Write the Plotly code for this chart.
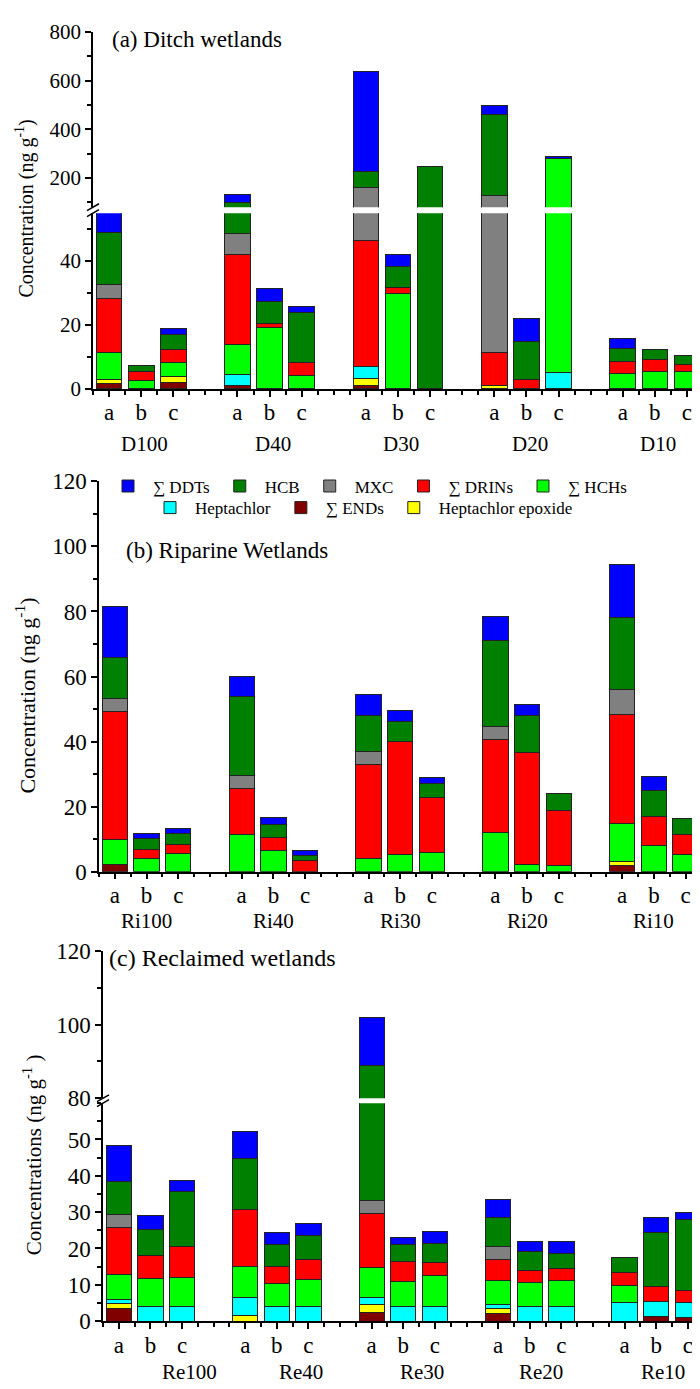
import plotly.graph_objects as go

W, H = 700, 1389
FONT = "Liberation Serif, Times New Roman, serif"

# ---------------- data ----------------
series_names = ["∑ ENDs", "Heptachlor epoxide", "Heptachlor", "∑ HCHs",
                "∑ DRINs", "MXC", "HCB", "∑ DDTs"]
series_colors = ["#800000", "#FFFF00", "#00FFFF", "#00FF00",
                 "#FF0000", "#808080", "#008000", "#0000FF"]

samples = ["a", "b", "c"]
groups_a = ["D100", "D40", "D30", "D20", "D10"]
groups_b = ["Ri100", "Ri40", "Ri30", "Ri20", "Ri10"]
groups_c = ["Re100", "Re40", "Re30", "Re20", "Re10"]

# (a) Ditch wetlands  (D100 a,b,c | D40 | D30 | D20 | D10)
a_ENDs  = [1.7, 0, 1.9,  1.0, 0, 0,    1.0, 0, 0,     0, 0, 0,      0, 0, 0]
a_HepEp = [1.3, 0, 1.9,  0, 0, 0,      2.3, 0, 0,     1.2, 0, 0,    0, 0, 0]
a_Hep   = [0, 0, 0,      3.6, 0, 0,    3.8, 0, 0,     0, 0, 5.0,    0, 0, 0]
a_HCHs  = [8.3, 2.6, 4.6, 9.4, 19.1, 4.1, 0, 30.0, 0,  0, 0, 273,   4.7, 5.3, 5.4]
a_DRINs = [16.9, 2.7, 4.0, 28.1, 1.3, 4.3, 39.3, 1.7, 0, 10.3, 2.8, 0, 3.8, 4.0, 2.2]
a_MXC   = [4.4, 0, 0,    6.5, 0, 0,    114.6, 0, 0,   115.5, 0, 0,  0, 0, 0]
a_HCB   = [16.3, 2.1, 4.6, 51.4, 7.0, 15.4, 67, 6.7, 245, 334, 12.0, 0, 4.2, 3.0, 2.8]
a_DDTs  = [7.0, 0, 2.0,  30, 4.1, 1.9,  410, 3.8, 0,   36, 7.3, 12,  3.1, 0, 0]

# (b) Riparine wetlands (Ri100 | Ri40 | Ri30 | Ri20 | Ri10)
b_ENDs  = [2.2, 0, 0,    0, 0, 0,      0, 0, 0,       0, 0, 0,      1.9, 0, 0]
b_HepEp = [0, 0, 0,      0, 0, 0,      0, 0, 0,       0, 0, 0,      1.3, 0, 0]
b_Hep   = [0, 0, 0,      0, 0, 0,      0, 0, 0,       0, 0, 0,      0, 0, 0]
b_HCHs  = [7.6, 4.2, 5.7, 11.4, 6.4, 0, 4.1, 5.4, 5.9, 12.0, 2.1, 1.8, 11.7, 8.2, 5.3]
b_DRINs = [39.4, 2.7, 2.8, 14.2, 4.2, 3.3, 28.7, 34.5, 16.9, 28.5, 34.5, 16.9, 33.4, 8.8, 6.2]
b_MXC   = [4.0, 0, 0,    4.0, 0, 0,    4.2, 0, 0,     4.2, 0, 0,    7.7, 0, 0]
b_HCB   = [12.8, 3.2, 3.1, 24.2, 4.0, 1.8, 10.9, 6.3, 4.4, 26.3, 11.5, 5.2, 22.0, 8.0, 4.7]
b_DDTs  = [15.4, 1.7, 1.8, 6.3, 2.1, 1.5, 6.5, 3.5, 1.9, 7.4, 3.3, 0, 16.4, 4.2, 0]

# (c) Reclaimed wetlands (Re100 | Re40 | Re30 | Re20 | Re10)
c_ENDs  = [3.5, 0, 0,    0, 0, 0,      2.3, 0, 0,     2.0, 0, 0,    0, 1.35, 1.1]
c_HepEp = [1.4, 0, 0,    1.5, 0, 0,    2.2, 0, 0,     1.5, 0, 0,    0, 0, 0]
c_Hep   = [1.0, 4.0, 4.0, 5.0, 4.0, 4.0, 2.0, 4.0, 4.0, 1.1, 4.0, 4.0, 5.1, 4.05, 4.0]
c_HCHs  = [7.0, 7.7, 8.0, 8.6, 6.4, 7.4, 8.4, 7.0, 8.5, 6.5, 6.6, 7.1, 4.8, 0, 0]
c_DRINs = [13.0, 6.5, 8.5, 15.6, 4.6, 5.5, 14.6, 5.4, 3.7, 6.0, 3.3, 3.3, 3.5, 4.0, 3.4]
c_MXC   = [3.4, 0, 0,    0, 0, 0,      3.6, 0, 0,     3.4, 0, 0,    0, 0, 0]
c_HCB   = [9.1, 7.1, 15.1, 14.2, 6.1, 6.8, 55.8, 4.6, 5.2, 8.0, 5.2, 4.2, 4.2, 15.1, 19.4]
c_DDTs  = [10.0, 3.8, 3.0, 7.2, 3.2, 3.3, 13.1, 2.0, 3.4, 5.0, 2.9, 3.4, 0, 4.1, 2.1]

panel_a = [a_ENDs, a_HepEp, a_Hep, a_HCHs, a_DRINs, a_MXC, a_HCB, a_DDTs]
panel_b = [b_ENDs, b_HepEp, b_Hep, b_HCHs, b_DRINs, b_MXC, b_HCB, b_DDTs]
panel_c = [c_ENDs, c_HepEp, c_Hep, c_HCHs, c_DRINs, c_MXC, c_HCB, c_DDTs]

# legend ranks: row 1 = DDTs, HCB, MXC, DRINs, HCHs ; row 2 = Heptachlor, ENDs, Hept. epoxide
legend_rank = [2, 3, 1, 5, 4, 3, 2, 1]
legend_id = ["legend2", "legend2", "legend2", "legend", "legend", "legend", "legend", "legend"]

# ---------------- geometry helpers ----------------
def fy(p):
    return 1 - p / H

def fx(p):
    return p / W

xpos = [g * 4 + s for g in range(5) for s in range(3)]
tick_text = [samples[i % 3] for i in range(15)]
minor_vals = [i + 0.5 for i in range(-1, 19)] + [3, 7, 11, 15]

fig = go.Figure()

def add_panel(data, xa, ya, legend=False):
    for k, vals in enumerate(data):
        yv = [v if v else None for v in vals]
        fig.add_trace(go.Bar(
            x=xpos, y=yv, name=series_names[k], xaxis=xa, yaxis=ya,
            marker=dict(color=series_colors[k], line=dict(color="#222222", width=1)),
            showlegend=legend, legend=legend_id[k], legendrank=legend_rank[k],
            hoverinfo="skip"))

add_panel(panel_a, "x", "y")
add_panel(panel_a, "x2", "y2")
add_panel(panel_b, "x3", "y3", legend=True)
add_panel(panel_c, "x4", "y4")
add_panel(panel_c, "x5", "y5")

def xaxis(domain, anchor, visible=True):
    d = dict(domain=domain, anchor=anchor, range=[-0.5, 18.5], showgrid=False,
             zeroline=False, fixedrange=True)
    if visible:
        d.update(tickmode="array", tickvals=xpos, ticktext=tick_text,
                 ticks="outside", ticklen=6, tickwidth=1.5, tickcolor="black",
                 showline=True, linewidth=1.5, linecolor="black",
                 tickfont=dict(family=FONT, size=23, color="black"), ticklabelstandoff=-4,
                 minor=dict(tickmode="array", tickvals=minor_vals,
                            ticks="outside", ticklen=4, tickwidth=1.5, tickcolor="black"))
    else:
        d.update(visible=False)
    return d

def yaxis(domain, anchor, rng, tickvals, minor_dtick, fsize):
    return dict(domain=domain, anchor=anchor, range=rng, showgrid=False, zeroline=False,
                tickmode="array", tickvals=tickvals, ticks="outside", ticklen=6,
                tickwidth=1.5, tickcolor="black", showline=True, linewidth=1.5,
                linecolor="black", tickfont=dict(family=FONT, size=fsize, color="black"),
                fixedrange=True,
                minor=dict(dtick=minor_dtick, tick0=0, ticks="outside",
                           ticklen=4, tickwidth=1.5, tickcolor="black"))

xa_dom = [fx(85), fx(695)]
xb_dom = [fx(91), fx(693.5)]
xc_dom = [fx(95), fx(695.6)]

fig.update_layout(
    width=W, height=H, autosize=False,
    margin=dict(l=0, r=0, t=0, b=0),
    paper_bgcolor="white", plot_bgcolor="white",
    barmode="stack", bargap=0.2,
    font=dict(family=FONT, color="black"),
    xaxis=xaxis(xa_dom, "y"),
    yaxis=yaxis([fy(375.7), fy(196.7)], "x", [0, 55], [0, 20, 40], 10, 21),
    xaxis2=xaxis(xa_dom, "y2", visible=False),
    yaxis2=yaxis([fy(190.6), fy(12)], "x2", [80, 800], [200, 400, 600, 800], 100, 21),
    xaxis3=xaxis(xb_dom, "y3"),
    yaxis3=yaxis([fy(867.3), fy(469.8)], "x3", [0, 120], [0, 20, 40, 60, 80, 100, 120], 10, 23),
    xaxis4=xaxis(xc_dom, "y4"),
    yaxis4=yaxis([fy(1325), fy(1103)], "x4", [0, 60], [0, 10, 20, 30, 40, 50], 5, 23),
    xaxis5=xaxis(xc_dom, "y5", visible=False),
    yaxis5=yaxis([fy(1098), fy(948)], "x5", [80, 120], [80, 100, 120], 10, 23),
    legend=dict(orientation="h", x=fx(95), y=fy(475), xanchor="left", yanchor="middle",
                font=dict(family=FONT, size=17, color="black"), traceorder="normal",
                bgcolor="rgba(0,0,0,0)", itemwidth=40, tracegroupgap=0),
    legend2=dict(orientation="h", x=fx(137), y=fy(497), xanchor="left", yanchor="middle",
                 font=dict(family=FONT, size=17, color="black"), traceorder="normal",
                 bgcolor="rgba(0,0,0,0)", itemwidth=40, tracegroupgap=0),
)

def note(text, x, y, xref="paper", size=21, xanchor="center", angle=0):
    return dict(text=text, x=x, y=y, xref=xref, yref="paper", xanchor=xanchor,
                yanchor="middle", textangle=angle, showarrow=False,
                font=dict(family=FONT, size=size, color="black"))

ann = []
# panel titles
ann.append(note("(a) Ditch wetlands", fx(102), fy(20), size=23, xanchor="left"))
ann.append(note("(b) Riparine Wetlands", fx(116), fy(540), size=23, xanchor="left"))
ann.append(note("(c) Reclaimed wetlands", fx(99), fy(955), size=24, xanchor="left"))
# y titles
ann.append(note("Concentration (ng g<sup>-1</sup>)", fx(17), fy(192), size=20, angle=-90))
ann.append(note("Concentration (ng g<sup>-1</sup>)", fx(17), fy(688), size=22, angle=-90))
ann.append(note("Concentrations (ng g<sup>-1</sup> )", fx(24), fy(1156), size=21, angle=-90))
# group labels
for g, name in enumerate(groups_a):
    ann.append(note(name, g * 4 + 1.1, fy(432), xref="x"))
for g, name in enumerate(groups_b):
    ann.append(note(name, g * 4 + 1, fy(918), xref="x3"))
c_label_pos = [2.25, 5.75, 9.6, 13.35, 17.2]
for g, name in enumerate(groups_c):
    ann.append(note(name, c_label_pos[g], fy(1377), xref="x4"))
fig.update_layout(annotations=ann)

# axis break marks
shapes = []
for (xc, ytop, ybot) in [(85, 190.6, 196.7), (95, 1098, 1103)]:
    for yy in (ytop, ybot):
        shapes.append(dict(type="line", xref="paper", yref="paper",
                           x0=fx(xc - 6), y0=fy(yy + 3.5), x1=fx(xc + 6), y1=fy(yy - 3.5),
                           line=dict(color="black", width=1.5)))
fig.update_layout(shapes=shapes)

fig.write_html("out.html")
